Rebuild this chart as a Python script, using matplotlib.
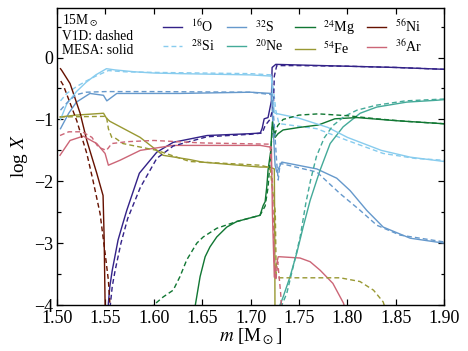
import matplotlib
matplotlib.use('Agg')
import matplotlib.pyplot as plt

plt.rcParams['font.family'] = ['Liberation Serif', 'DejaVu Serif']
plt.rcParams['mathtext.fontset'] = 'stix'

# colours per isotope
c_o16 = '#332288'
c_si28 = '#88CCEE'
c_s32 = '#6699CC'
c_ne20 = '#44AA99'
c_mg24 = '#117733'
c_fe54 = '#999933'
c_ni56 = '#661100'
c_ar36 = '#CC6677'

# MESA (solid) and V1D (dashed) profiles, log X vs m [Msun]
o16_m = [1.5525, 1.553, 1.5545, 1.557, 1.563, 1.568, 1.572, 1.585, 1.603, 1.62, 1.655, 1.70, 1.71, 1.712, 1.714, 1.718, 1.7215, 1.7222, 1.726, 1.75, 1.80, 1.85, 1.90]
o16_x = [-4.3, -3.97, -3.7, -3.44, -2.95, -2.68, -2.47, -1.87, -1.53, -1.37, -1.26, -1.23, -1.22, -1.14, -0.99, -0.97, -0.7, -0.16, -0.11, -0.12, -0.14, -0.16, -0.19]
o16_m_d = [1.5545, 1.555, 1.557, 1.560, 1.566, 1.573, 1.586, 1.603, 1.62, 1.655, 1.70, 1.712, 1.715, 1.72, 1.7235, 1.7245, 1.727, 1.75, 1.80, 1.85, 1.90]
o16_x_d = [-4.3, -4.0, -3.7, -3.44, -3.0, -2.6, -2.1, -1.63, -1.43, -1.28, -1.24, -1.22, -1.1, -1.0, -0.8, -0.3, -0.13, -0.13, -0.14, -0.16, -0.19]

si28_m = [1.5035, 1.51, 1.52, 1.53, 1.54, 1.551, 1.56, 1.58, 1.60, 1.627, 1.70, 1.7215, 1.7225, 1.7245, 1.7253, 1.75, 1.78, 1.80, 1.835, 1.865, 1.90]
si28_x = [-1.0, -0.75, -0.55, -0.4, -0.28, -0.18, -0.2, -0.23, -0.25, -0.26, -0.28, -0.3, -0.6, -0.88, -0.9, -0.98, -1.13, -1.29, -1.5, -1.61, -1.68]
si28_m_d = [1.5035, 1.51, 1.52, 1.53, 1.54, 1.553, 1.57, 1.60, 1.65, 1.70, 1.721, 1.7235, 1.726, 1.729, 1.7305, 1.7684, 1.80, 1.837, 1.87, 1.90]
si28_x_d = [-0.7, -0.58, -0.47, -0.38, -0.3, -0.21, -0.23, -0.24, -0.25, -0.26, -0.28, -0.5, -0.85, -1.05, -1.07, -1.15, -1.34, -1.55, -1.63, -1.66]

s32_m = [1.5035, 1.512, 1.52, 1.534, 1.5479, 1.5514, 1.5617, 1.627, 1.70, 1.7215, 1.7235, 1.7253, 1.727, 1.7323, 1.7684, 1.789, 1.8028, 1.82, 1.837, 1.8649, 1.90]
s32_x = [-1.15, -0.9, -0.72, -0.58, -0.61, -0.7, -0.58, -0.58, -0.56, -0.58, -1.2, -1.74, -1.85, -1.69, -1.8, -1.95, -2.15, -2.47, -2.74, -2.92, -3.0]
s32_m_d = [1.5035, 1.512, 1.52, 1.53, 1.55, 1.60, 1.70, 1.722, 1.7245, 1.727, 1.7285, 1.7305, 1.7684, 1.7925, 1.8132, 1.8304, 1.8545, 1.90]
s32_x_d = [-0.85, -0.7, -0.6, -0.56, -0.55, -0.55, -0.56, -0.6, -1.1, -1.7, -1.98, -1.71, -1.85, -2.2, -2.47, -2.71, -2.87, -2.98]

ne20_m = [1.7275, 1.7284, 1.7336, 1.7408, 1.7477, 1.7543, 1.7615, 1.7684, 1.7718, 1.7822, 1.7956, 1.8132, 1.8304, 1.8614, 1.8925, 1.90]
ne20_x = [-4.3, -4.08, -3.87, -3.54, -3.16, -2.74, -2.31, -1.98, -1.82, -1.39, -1.12, -0.9, -0.8, -0.72, -0.69, -0.68]
ne20_m_d = [1.7295, 1.731, 1.7374, 1.744, 1.7512, 1.757, 1.762, 1.768, 1.776, 1.785, 1.797, 1.81, 1.83, 1.86, 1.90]
ne20_x_d = [-4.3, -4.05, -3.81, -3.38, -2.9, -2.36, -1.98, -1.6, -1.3, -1.1, -0.95, -0.85, -0.77, -0.7, -0.67]

mg24_m = [1.6418, 1.6478, 1.653, 1.658, 1.665, 1.6754, 1.6857, 1.7097, 1.713, 1.715, 1.7167, 1.7175, 1.718, 1.7209, 1.7219, 1.7225, 1.7253, 1.7284, 1.7336, 1.75, 1.77, 1.787, 1.81, 1.85, 1.90]
mg24_x = [-4.1, -3.54, -3.22, -3.06, -2.9, -2.74, -2.65, -2.55, -2.39, -2.33, -2.09, -1.93, -1.82, -1.5, -1.18, -1.04, -1.29, -1.23, -1.17, -1.13, -1.09, -0.99, -0.97, -1.02, -1.07]
mg24_m_d = [1.596, 1.6096, 1.62, 1.627, 1.634, 1.6444, 1.651, 1.665, 1.6857, 1.7097, 1.715, 1.718, 1.7205, 1.7225, 1.7255, 1.728, 1.7336, 1.75, 1.77, 1.80, 1.83, 1.86, 1.90]
mg24_x_d = [-4.05, -3.87, -3.76, -3.54, -3.27, -3.0, -2.9, -2.76, -2.65, -2.55, -2.4, -2.1, -1.6, -1.12, -1.22, -1.1, -1.0, -0.93, -0.91, -0.94, -0.99, -1.03, -1.07]

fe54_m = [1.503, 1.52, 1.548, 1.551, 1.5545, 1.5858, 1.6096, 1.6375, 1.65, 1.68, 1.71, 1.72, 1.7245, 1.725, 1.7252]
fe54_x = [-0.96, -0.93, -0.9, -0.98, -1.03, -1.29, -1.58, -1.65, -1.69, -1.73, -1.77, -1.77, -1.8, -3.0, -4.3]
fe54_m_d = [1.503, 1.551, 1.553, 1.5565, 1.56, 1.568, 1.603, 1.637, 1.71, 1.72, 1.7255, 1.7265, 1.728, 1.75, 1.7925, 1.813, 1.827, 1.837, 1.84]
fe54_x_d = [-0.96, -0.95, -1.15, -1.29, -1.3, -1.39, -1.5, -1.68, -1.74, -1.78, -2.5, -3.54, -3.56, -3.56, -3.56, -3.62, -3.76, -3.95, -4.1]

ni56_m = [1.5035, 1.5049, 1.5134, 1.5238, 1.5307, 1.541, 1.5475, 1.5486, 1.5496, 1.550]
ni56_x = [-0.18, -0.21, -0.42, -0.9, -1.34, -1.87, -2.23, -2.9, -3.97, -4.3]
ni56_m_d = [1.5038, 1.5065, 1.5203, 1.5307, 1.537, 1.5444, 1.5496, 1.553, 1.5548, 1.556]
ni56_x_d = [-0.38, -0.45, -1.02, -1.55, -1.98, -2.52, -3.16, -3.6, -4.03, -4.3]

ar36_m = [1.503, 1.5134, 1.527, 1.541, 1.5496, 1.553, 1.565, 1.586, 1.62, 1.71, 1.7215, 1.7225, 1.7245, 1.726, 1.7285, 1.7305, 1.751, 1.7615, 1.772, 1.785, 1.796, 1.80]
ar36_x = [-1.58, -1.34, -1.27, -1.39, -1.55, -1.74, -1.66, -1.5, -1.42, -1.42, -1.45, -2.5, -3.55, -3.4, -3.22, -3.22, -3.24, -3.3, -3.44, -3.65, -3.97, -4.2]
ar36_m_d = [1.503, 1.512, 1.526, 1.536, 1.5427, 1.551, 1.5565, 1.572, 1.60, 1.65, 1.72, 1.7225, 1.7245, 1.726, 1.728, 1.731, 1.733]
ar36_x_d = [-1.26, -1.2, -1.2, -1.29, -1.45, -1.5, -1.39, -1.36, -1.34, -1.38, -1.4, -2.0, -3.3, -3.6, -3.3, -3.8, -4.3]

fig = plt.figure(figsize=(6.5, 4.875), dpi=72)
ax = fig.add_axes([0.122, 0.131, 0.827, 0.846])

lw = 1.4
dash = (3.5, 2.2)

ax.plot(o16_m, o16_x, color=c_o16, lw=lw, label=r'$^{16}$O')
ax.plot(si28_m_d, si28_x_d, color=c_si28, lw=lw, dashes=dash, label=r'$^{28}$Si')
ax.plot(s32_m, s32_x, color=c_s32, lw=lw, label=r'$^{32}$S')
ax.plot(ne20_m, ne20_x, color=c_ne20, lw=lw, label=r'$^{20}$Ne')
ax.plot(mg24_m, mg24_x, color=c_mg24, lw=lw, label=r'$^{24}$Mg')
ax.plot(fe54_m, fe54_x, color=c_fe54, lw=lw, label=r'$^{54}$Fe')
ax.plot(ni56_m, ni56_x, color=c_ni56, lw=lw, label=r'$^{56}$Ni')
ax.plot(ar36_m, ar36_x, color=c_ar36, lw=lw, label=r'$^{36}$Ar')

ax.plot(o16_m_d, o16_x_d, color=c_o16, lw=lw, dashes=dash)
ax.plot(si28_m, si28_x, color=c_si28, lw=lw)
ax.plot(s32_m_d, s32_x_d, color=c_s32, lw=lw, dashes=dash)
ax.plot(ne20_m_d, ne20_x_d, color=c_ne20, lw=lw, dashes=dash)
ax.plot(mg24_m_d, mg24_x_d, color=c_mg24, lw=lw, dashes=dash)
ax.plot(fe54_m_d, fe54_x_d, color=c_fe54, lw=lw, dashes=dash)
ax.plot(ni56_m_d, ni56_x_d, color=c_ni56, lw=lw, dashes=dash)
ax.plot(ar36_m_d, ar36_x_d, color=c_ar36, lw=lw, dashes=dash)

ax.set_xlim(1.5, 1.9)
ax.set_ylim(-4, 0.8)
ax.set_xticks([1.50, 1.55, 1.60, 1.65, 1.70, 1.75, 1.80, 1.85, 1.90])
ax.set_xticklabels(['1.50', '1.55', '1.60', '1.65', '1.70', '1.75', '1.80', '1.85', '1.90'])
ax.set_yticks([-4, -3, -2, -1, 0])
ax.set_yticklabels(['\u22124', '\u22123', '\u22122', '\u22121', '0'])
ax.set_yticks([-3.5, -2.5, -1.5, -0.5, 0.5], minor=True)
ax.tick_params(which='both', direction='in', top=True, right=True, width=1.2, labelsize=18)
ax.tick_params(which='major', length=6)
ax.tick_params(which='minor', length=3.5)
ax.tick_params(axis='x', pad=5)
ax.tick_params(axis='y', pad=4)
for s in ax.spines.values():
    s.set_linewidth(1.4)

ax.set_xlabel(r'$m$ [M$_\odot$]', fontsize=19, labelpad=0)
ax.set_ylabel(r'log $X$', fontsize=19, labelpad=4)

ax.text(0.012, 0.985, '15M$_\\odot$\nV1D: dashed\nMESA: solid', transform=ax.transAxes,
        ha='left', va='top', fontsize=13.5, linespacing=1.1)

ax.legend(loc='upper right', ncol=4, frameon=False, fontsize=14, handlelength=1.4,
          columnspacing=0.85, handletextpad=0.6, labelspacing=0.25,
          bbox_to_anchor=(0.975, 1.01))

fig.savefig('out.png', dpi=72)
